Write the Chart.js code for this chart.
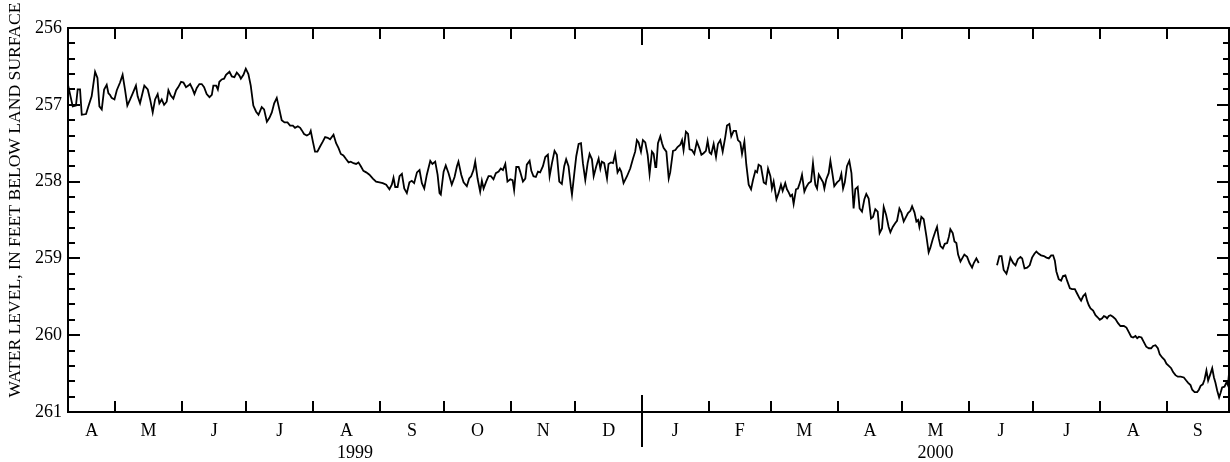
<!DOCTYPE html>
<html><head><meta charset="utf-8">
<script src="https://cdn.jsdelivr.net/npm/chart.js@4/dist/chart.umd.min.js"></script>
<style>html,body{margin:0;padding:0;background:#fff}#wrap{width:1230px;height:462px;position:relative}</style>
</head><body><div id="wrap"><canvas id="c"></canvas></div>
<script>
// ---- data (day 0 = 1999-04-09) ----
const startDate = '1999-04-09';
const endDate = '2000-09-30';
const monthStarts = ['1999-05-01','1999-06-01','1999-07-01','1999-08-01','1999-09-01','1999-10-01','1999-11-01','1999-12-01','2000-01-01','2000-02-01','2000-03-01','2000-04-01','2000-05-01','2000-06-01','2000-07-01','2000-08-01','2000-09-01'];
const monthLabels = ['A','M','J','J','A','S','O','N','D','J','F','M','A','M','J','J','A','S'];
const yearStarts = ['2000-01-01'];
const yearLabels = ['1999','2000'];
const yTicks = [256,257,258,259,260,261];
const yTitle = 'WATER LEVEL, IN FEET BELOW LAND SURFACE';

const days = [0,2.2,3.7,4.5,5.6,6.4,8.4,9.5,11.0,12.6,13.7,14.6,15.7,16.8,18.0,18.8,19.5,20.3,21.6,22.7,24.2,25.4,26.5,27.6,28.9,30.1,31.6,32.4,33.5,34.8,35.5,37.1,38.2,39.4,40.5,41.7,42.5,43.6,44.7,45.9,46.7,47.8,49.0,50.3,51.3,52.6,53.7,54.9,56.0,56.8,58.0,58.8,59.9,61.1,62.2,63.3,64.5,65.8,66.9,67.6,68.9,69.7,70.4,71.5,72.6,73.5,75.1,76.2,77.4,78.5,79.7,80.4,81.6,82.7,83.9,85.0,86.2,87.5,88.6,90.1,91.2,92.5,93.7,94.8,95.9,97.1,98.3,99.4,100.7,102.1,103.3,104.6,105.6,106.9,108.0,108.7,109.8,111.1,112.3,112.9,113.9,114.9,116.0,117.3,118.5,119.6,120.8,121.9,123.5,124.7,125.8,126.9,128.1,129.4,130.5,131.5,132.8,134.0,135.1,136.2,137.4,138.7,140.2,141.8,143.3,144.9,146.4,148.0,149.5,150.6,151.4,152.2,153.3,154.2,
155.3,156.4,157.6,158.8,159.9,161.0,162.3,163.5,164.6,165.7,166.9,168.5,169.5,170.8,171.9,172.8,173.4,174.7,175.7,177.0,178.5,179.8,180.9,181.6,182.9,184.0,185.5,186.6,187.5,188.6,189.4,190.5,191.7,192.5,193.3,194.5,195.6,196.7,197.9,199.0,200.3,201.3,202.3,203.4,204.4,205.7,206.8,207.5,208.5,209.6,210.3,211.6,212.7,213.4,214.7,215.5,216.5,217.6,218.6,219.6,220.9,222.0,223.2,224.0,225.1,226.3,227.4,228.5,229.7,230.8,231.7,232.8,233.9,234.4,235.5,236.4,237.5,238.6,239.5,240.6,241.7,242.6,243.7,244.5,245.7,246.8,247.6,248.3,249.4,250.7,251.4,252.5,253.5,254.5,255.6,256.6,257.3,258.4,260.0,261.5,262.8,263.8,264.6,265.4,266.5,267.4,268.5,269.6,270.5,271.6,272.4,273.2,273.6,274.4,275.5,276.3,277.0,278.3,279.4,280.1,281.4,282.5,283.5,284.8,285.6,286.3,287.4,288.4,289.1,290.2,291.3,292.5,293.6,294.6,295.6,296.7,297.5,298.4,299.2,300.3,301.4,302.3,303.4,304.5,305.7,306.5,307.6,308.5,309.6,310.7,311.6,312.7,313.5,314.6,315.5,316.6,317.7,318.6,319.7,320.5,321.2,322.3,323.6,324.6,325.6,326.7,327.4,328.2,329.5,330.5,331.6,332.4,333.6,334.4,335.2,336.0,336.8,337.5,338.6,339.5,340.6,341.4,342.5,343.4,344.5,345.6,346.5,347.6,348.4,349.2,
351.2,351.8,352.7,353.8,354.6,355.4,356.4,357.7,358.9,359.7,360.5,361.3,362.3,363.4,364.4,365.4,366.2,367.3,368.2,369.3,370.4,371.3,372.4,373.5,374.4,375.5,376.6,377.5,378.6,379.4,380.5,381.7,382.5,383.6,384.8,385.6,386.7,387.6,388.7,389.8,390.7,391.8,392.6,393.7,394.6,395.4,396.0,396.9,398.0,399.3,400.3,401.1,402.2,403.4,404.2,405.0,405.8,406.9,407.8,408.9,409.7,410.4,411.5,412.3,413.2,414.0,415.1,415.9,416.9,418.2,419.3,420.5,421.3,422.5,423.6,428,
432.1,433.2,434.2,435.2,436.5,437.3,438.3,439.6,440.7,441.8,443.0,443.8,444.9,446.1,447.3,448.4,449.5,450.4,451.5,452.6,453.9,455.1,456.2,457.3,458.2,459.0,459.7,460.8,461.9,462.8,463.9,464.7,466.0,467.0,468.3,469.4,470.5,471.2,472.2,473.2,474.0,474.8,475.6,476.8,477.9,479.0,479.9,481.0,481.8,482.6,483.3,484.1,484.9,486.0,487.2,488.3,489.5,491.1,492.3,493.4,494.5,495.4,496.5,497.3,498.1,499.3,500.4,501.5,502.7,503.8,504.7,505.8,506.9,507.8,508.9,510.0,510.9,512.0,513.1,514.0,515.1,516.2,517.5,519.0,520.1,521.0,522.1,522.9,524.0,525.2,526.0,526.8,527.8,528.6,529.5,530.3,531.4,532.2,533.0,533.7,534.5,535.4,536.1,536.8,537.9,538.9,539.5,540.0];

const levels = [256.74,257.02,257.01,256.80,256.80,257.13,257.12,257.02,256.89,256.57,256.65,257.02,257.06,256.80,256.74,256.85,256.87,256.91,256.93,256.81,256.71,256.61,256.80,257.01,256.93,256.85,256.75,256.89,256.98,256.83,256.75,256.80,256.93,257.10,256.93,256.86,256.98,256.93,257.00,256.96,256.81,256.88,256.92,256.81,256.77,256.70,256.71,256.77,256.75,256.73,256.80,256.86,256.78,256.73,256.73,256.77,256.86,256.90,256.87,256.75,256.75,256.80,256.70,256.67,256.66,256.61,256.57,256.63,256.64,256.58,256.62,256.66,256.61,256.53,256.60,256.75,257.01,257.09,257.13,257.03,257.06,257.22,257.17,257.10,256.98,256.91,257.06,257.20,257.23,257.23,257.27,257.27,257.30,257.28,257.30,257.33,257.38,257.40,257.38,257.34,257.48,257.61,257.61,257.54,257.48,257.42,257.43,257.45,257.39,257.50,257.56,257.64,257.66,257.71,257.75,257.74,257.76,257.77,257.75,257.80,257.86,257.88,257.91,257.96,258.00,258.01,258.02,258.04,258.10,258.04,257.95,258.07,258.07,257.93,
257.90,258.09,258.15,258.01,257.99,258.02,257.88,257.85,258.02,258.09,257.91,257.73,257.77,257.74,257.91,258.15,258.17,257.87,257.79,257.89,258.04,257.94,257.80,257.74,257.91,258.01,258.06,257.96,257.93,257.85,257.74,257.96,258.13,257.99,258.09,258.00,257.93,257.93,257.97,257.89,257.87,257.83,257.85,257.77,258.00,257.97,257.98,258.11,257.81,257.81,257.87,258.00,257.96,257.78,257.73,257.86,257.93,257.94,257.87,257.88,257.80,257.68,257.65,257.93,257.76,257.60,257.65,258.00,258.03,257.80,257.71,257.80,258.07,258.17,257.89,257.67,257.51,257.50,257.76,257.98,257.76,257.64,257.71,257.93,257.80,257.70,257.83,257.74,257.76,257.96,257.77,257.75,257.76,257.64,257.88,257.83,257.87,258.02,257.93,257.83,257.70,257.61,257.46,257.49,257.61,257.46,257.49,257.65,257.90,257.61,257.64,257.81,257.81,257.50,257.41,257.50,257.56,257.61,257.96,257.88,257.60,257.59,257.55,257.52,257.46,257.59,257.35,257.38,257.58,257.59,257.64,257.48,257.56,257.65,257.63,257.60,257.47,257.62,257.64,257.51,257.68,257.51,257.46,257.61,257.42,257.27,257.25,257.41,257.34,257.34,257.46,257.49,257.64,257.48,257.78,258.04,258.10,257.98,257.86,257.88,257.78,257.80,258.01,258.03,257.83,257.93,258.09,258.00,258.23,258.15,258.04,258.12,258.02,258.10,258.14,258.19,258.17,258.29,258.10,258.09,258.00,257.91,258.13,258.07,258.02,258.00,257.76,258.04,258.09,257.91,
258.01,258.09,257.97,257.89,257.73,257.87,258.06,258.01,257.98,257.90,258.09,258.01,257.80,257.73,257.89,258.35,258.10,258.07,258.35,258.39,258.23,258.16,258.22,258.48,258.46,258.36,258.39,258.67,258.61,258.33,258.43,258.59,258.66,258.59,258.54,258.51,258.35,258.40,258.52,258.46,258.41,258.38,258.32,258.40,258.52,258.50,258.59,258.46,258.49,258.72,258.92,258.86,258.75,258.65,258.59,258.74,258.84,258.87,258.81,258.80,258.72,258.62,258.67,258.78,258.80,258.95,259.04,259.00,258.95,258.98,259.06,259.12,259.06,259.00,259.06,null,
259.09,258.97,258.97,259.15,259.20,259.12,258.99,259.06,259.09,259.01,258.98,259.00,259.13,259.12,259.09,258.99,258.94,258.91,258.94,258.96,258.97,258.99,259.00,258.96,258.96,259.03,259.17,259.27,259.29,259.23,259.22,259.29,259.39,259.40,259.40,259.46,259.52,259.55,259.49,259.46,259.55,259.61,259.65,259.68,259.74,259.77,259.80,259.78,259.75,259.76,259.78,259.75,259.74,259.76,259.79,259.84,259.88,259.88,259.90,259.96,260.02,260.03,260.01,260.04,260.02,260.03,260.09,260.15,260.17,260.17,260.14,260.13,260.17,260.25,260.29,260.32,260.37,260.40,260.43,260.48,260.52,260.54,260.54,260.55,260.59,260.62,260.65,260.71,260.74,260.74,260.71,260.66,260.64,260.58,260.46,260.59,260.50,260.43,260.55,260.62,260.72,260.81,260.75,260.68,260.67,260.61,260.65,260.50];

// ---- helpers ----
const dayOf = s => { const [a,b,c]=s.split('-').map(Number); const [d,e,f]=startDate.split('-').map(Number); return (Date.UTC(a,b-1,c)-Date.UTC(d,e-1,f))/86400000; };
const xMax = dayOf(endDate);
const monthDays = monthStarts.map(dayOf);
const yearDays = yearStarts.map(dayOf);
const mb = [0, ...monthDays, xMax];
const monthMids = monthLabels.map((_, i) => (mb[i] + mb[i+1]) / 2);
const yb = [0, ...yearDays, xMax];
const yearMids = yearLabels.map((_, i) => (yb[i] + yb[i+1]) / 2);
const minorY = [];
for (let i = 0; i < yTicks.length - 1; i++) for (let k = 1; k < 5; k++) minorY.push(yTicks[i] + k * (yTicks[i+1] - yTicks[i]) / 5);

const FONT = "'Liberation Serif','Times New Roman',serif";
const FS = 18;

const framePlugin = {
  id: 'frame',
  afterDraw(chart) {
    const { ctx, chartArea: a, scales: { x, y } } = chart;
    ctx.save();
    ctx.strokeStyle = '#000';
    ctx.lineWidth = 2;
    ctx.strokeRect(a.left, a.top, a.right - a.left, a.bottom - a.top);
    ctx.beginPath();
    monthDays.forEach(d => {
      const px = Math.round(x.getPixelForValue(d));
      const isYear = yearDays.includes(d);
      ctx.moveTo(px, a.top); ctx.lineTo(px, a.top + (isYear ? 17 : 11));
      if (isYear) { ctx.moveTo(px, a.bottom - 17); ctx.lineTo(px, a.bottom + 35); }
      else { ctx.moveTo(px, a.bottom); ctx.lineTo(px, a.bottom - 11); }
    });
    yTicks.forEach(v => {
      const py = Math.round(y.getPixelForValue(v));
      ctx.moveTo(a.left, py); ctx.lineTo(a.left + 12, py);
      ctx.moveTo(a.right, py); ctx.lineTo(a.right - 12, py);
    });
    minorY.forEach(v => {
      const py = Math.round(y.getPixelForValue(v));
      ctx.moveTo(a.left, py); ctx.lineTo(a.left + 7, py);
      ctx.moveTo(a.right, py); ctx.lineTo(a.right - 6, py);
    });
    ctx.stroke();
    // y axis title
    ctx.fillStyle = '#000';
    ctx.font = '17.6px ' + FONT;
    ctx.textAlign = 'center';
    ctx.textBaseline = 'middle';
    ctx.translate(15, 200);
    ctx.rotate(-Math.PI / 2);
    ctx.fillText(yTitle, 0, 0);
    ctx.restore();
  }
};

new Chart(document.getElementById('c'), {
  type: 'line',
  data: { datasets: [{
    data: days.map((d, i) => ({ x: d, y: levels[i] })),
    borderColor: '#000', borderWidth: 1.8, pointRadius: 0, tension: 0,
    spanGaps: false, fill: false
  }] },
  options: {
    responsive: true, maintainAspectRatio: false, animation: false,
    layout: { padding: { top: 28, right: 1, left: 0, bottom: 0 } },
    plugins: { legend: { display: false }, tooltip: { enabled: false } },
    scales: {
      x: {
        type: 'linear', position: 'bottom', min: 0, max: xMax, weight: 0,
        afterBuildTicks: s => { s.ticks = monthMids.map(v => ({ value: v })); },
        afterFit: s => { s.height = 28; },
        ticks: { autoSkip: false, maxRotation: 0, padding: 8, color: '#000',
          font: { family: FONT, size: FS }, callback: (v, i) => monthLabels[i] },
        grid: { display: false, drawTicks: false }, border: { display: false }
      },
      x2: {
        type: 'linear', position: 'bottom', min: 0, max: xMax, weight: 1,
        afterBuildTicks: s => { s.ticks = yearMids.map(v => ({ value: v })); },
        afterFit: s => { s.height = 22; },
        ticks: { autoSkip: false, maxRotation: 0, padding: 2, color: '#000',
          font: { family: FONT, size: FS }, callback: (v, i) => yearLabels[i] },
        grid: { display: false, drawTicks: false }, border: { display: false }
      },
      y: {
        type: 'linear', reverse: true, min: 256, max: 261,
        afterBuildTicks: s => { s.ticks = yTicks.map(v => ({ value: v })); },
        afterFit: s => { s.width = 68; },
        ticks: { padding: 6, color: '#000', font: { family: FONT, size: FS },
          callback: v => String(v) },
        grid: { display: false, drawTicks: false }, border: { display: false }
      }
    }
  },
  plugins: [framePlugin]
});
</script></body></html>
